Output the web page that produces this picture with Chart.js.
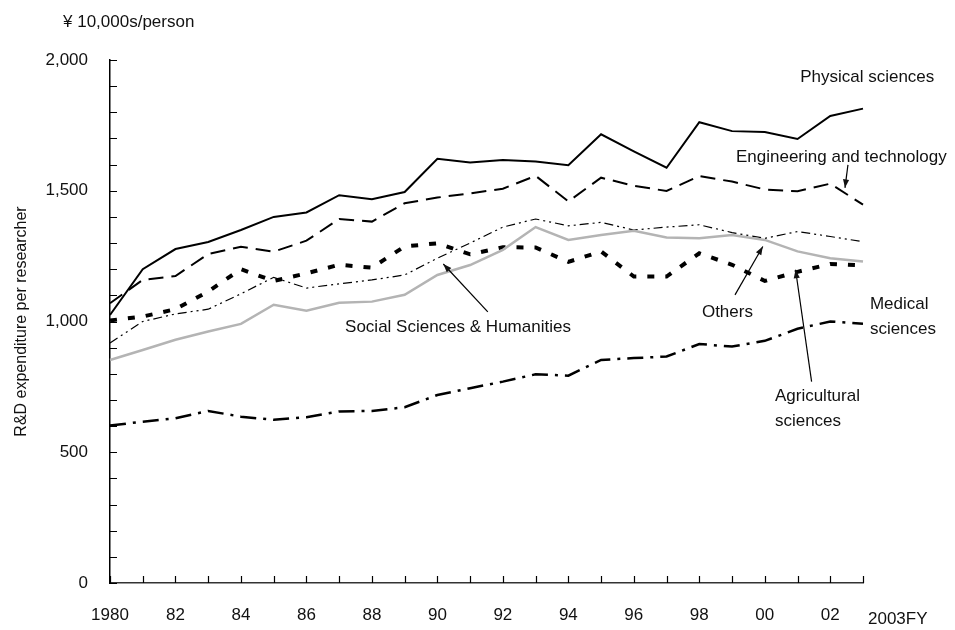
<!DOCTYPE html>
<html>
<head>
<meta charset="utf-8">
<script src="https://cdn.jsdelivr.net/npm/chart.js@4.4.1/dist/chart.umd.min.js"></script>
<style>
  html, body { margin: 0; padding: 0; background: #fff; }
  #container { width: 955px; height: 630px; position: relative; }
</style>
</head>
<body>
<div id="container"><canvas id="canvas" width="955" height="630"></canvas></div>
<script>
var FONT = '"Liberation Sans", Arial, sans-serif';

// fiscal years 1980 .. 2003
var years = [1980, 1981, 1982, 1983, 1984, 1985, 1986, 1987, 1988, 1989, 1990, 1991,
             1992, 1993, 1994, 1995, 1996, 1997, 1998, 1999, 2000, 2001, 2002, 2003];

// R&D expenditure per researcher, 10,000 yen
var physical    = [1025, 1200, 1277, 1304, 1350, 1400, 1417, 1483, 1468, 1495, 1622, 1608,
                   1618, 1612, 1598, 1716, 1651, 1588, 1762, 1728, 1725, 1698, 1786, 1814];
var engineering = [1070, 1159, 1174, 1258, 1286, 1267, 1309, 1392, 1382, 1452, 1474, 1490,
                   1508, 1557, 1459, 1550, 1519, 1499, 1556, 1535, 1505, 1498, 1527, 1447];
var agricultural= [1004, 1019, 1047, 1115, 1200, 1155, 1184, 1217, 1206, 1287, 1299, 1257,
                   1284, 1283, 1228, 1268, 1172, 1172, 1261, 1217, 1155, 1190, 1220, 1215];
var others      = [918, 1000, 1029, 1047, 1106, 1169, 1128, 1144, 1159, 1178, 1242, 1300,
                   1361, 1392, 1366, 1379, 1350, 1361, 1370, 1340, 1318, 1344, 1325, 1305];
var socialSci   = [853, 891, 930, 962, 991, 1064, 1041, 1072, 1076, 1102, 1178, 1216,
                   1274, 1361, 1312, 1331, 1347, 1321, 1318, 1331, 1312, 1268, 1242, 1229];
var medical     = [602, 617, 630, 658, 636, 624, 634, 656, 658, 672, 719, 745,
                   770, 798, 793, 853, 860, 866, 914, 904, 926, 972, 1000, 991];

var yTicks = [0, 500, 1000, 1500, 2000];

// annotation labels, placed in data units (x = year index, y = value)
var labels = [
  { text: ['Physical sciences'], x: 21.08, y: 1932 },
  { text: ['Engineering and technology'], x: 19.12, y: 1626 },
  { text: ['Social Sciences & Humanities'], x: 7.18, y: 979 },
  { text: ['Others'], x: 18.08, y: 1037 },
  { text: ['Medical', 'sciences'], x: 23.21, y: 1064 },
  { text: ['Agricultural', 'sciences'], x: 20.31, y: 715 }
];
var arrows = [
  { from: [22.54, 1599], to: [22.45, 1511] },
  { from: [11.54, 1037], to: [10.18, 1220] },
  { from: [19.09, 1102], to: [19.94, 1287] },
  { from: [21.43, 770],  to: [20.94, 1198] }
];

function line(label, data, color, width, dash) {
  return {
    label: label, data: data, borderColor: color, backgroundColor: color,
    borderWidth: width, borderDash: dash, borderCapStyle: 'butt',
    pointRadius: 0, tension: 0, fill: false
  };
}

var decorations = {
  id: 'decorations',
  afterDraw: function(chart) {
    var ctx = chart.ctx, xs = chart.scales.x, ys = chart.scales.y;
    var area = chart.chartArea;
    ctx.save();
    // inward tick marks
    ctx.strokeStyle = '#000';
    ctx.lineWidth = 1.2;
    ctx.beginPath();
    for (var i = 0; i < years.length; i++) {
      var px = Math.round(xs.getPixelForValue(i)) + 0.5;
      ctx.moveTo(px, area.bottom);
      ctx.lineTo(px, area.bottom - 7);
    }
    for (var v = 0; v <= 2000; v += 100) {
      var py = Math.round(ys.getPixelForValue(v)) + 0.5;
      ctx.moveTo(area.left, py);
      ctx.lineTo(area.left + 7, py);
    }
    ctx.stroke();

    // text labels
    ctx.fillStyle = '#111';
    ctx.font = '17px ' + FONT;
    ctx.textBaseline = 'middle';
    ctx.textAlign = 'left';
    labels.forEach(function(l) {
      var x = xs.getPixelForValue(l.x), y = ys.getPixelForValue(l.y);
      l.text.forEach(function(t, k) { ctx.fillText(t, x, y + k * 25); });
    });
    ctx.fillText('2003FY', xs.getPixelForValue(years.length - 1) + 5, xs.top + 36);
    ctx.fillText('\u00a5 10,000s/person', area.left - 47, area.top - 38);

    // arrows
    ctx.lineWidth = 1.2;
    arrows.forEach(function(a) {
      var x1 = xs.getPixelForValue(a.from[0]), y1 = ys.getPixelForValue(a.from[1]);
      var x2 = xs.getPixelForValue(a.to[0]), y2 = ys.getPixelForValue(a.to[1]);
      var ang = Math.atan2(y2 - y1, x2 - x1);
      ctx.beginPath();
      ctx.moveTo(x1, y1);
      ctx.lineTo(x2, y2);
      ctx.stroke();
      ctx.beginPath();
      ctx.moveTo(x2, y2);
      ctx.lineTo(x2 - 9 * Math.cos(ang - 0.35), y2 - 9 * Math.sin(ang - 0.35));
      ctx.lineTo(x2 - 9 * Math.cos(ang + 0.35), y2 - 9 * Math.sin(ang + 0.35));
      ctx.closePath();
      ctx.fill();
    });
    ctx.restore();
  }
};

var config = {
  type: 'line',
  data: {
    labels: years,
    datasets: [
      line('Social Sciences & Humanities', socialSci, '#b4b4b4', 2.5, []),
      line('Others', others, '#000', 1.2, [9, 4, 2, 4, 2, 4]),
      line('Medical sciences', medical, '#000', 2.5, [16, 7, 3, 7]),
      line('Agricultural sciences', agricultural, '#000', 4, [7, 11]),
      line('Engineering and technology', engineering, '#000', 2, [15, 8]),
      line('Physical sciences', physical, '#000', 2, [])
    ]
  },
  options: {
    responsive: false,
    animation: false,
    layout: { padding: { top: 60, right: 92, left: 0, bottom: 0 } },
    plugins: { legend: { display: false }, tooltip: { enabled: false } },
    scales: {
      x: {
        type: 'category',
        offset: false,
        grid: { display: false, drawTicks: false },
        border: { display: true, color: '#333', width: 1.5 },
        ticks: {
          autoSkip: false, maxRotation: 0, padding: 22, color: '#111',
          font: { family: FONT, size: 17 },
          callback: function(val, idx) {
            var yr = years[idx];
            if (yr % 2 !== 0 || yr === 2003) return '';
            return yr === 1980 ? '1980' : String(yr % 100).padStart(2, '0');
          }
        },
        afterFit: function(s) { s.height = 47; }
      },
      y: {
        min: 0, max: 2000,
        grid: { display: false, drawTicks: false },
        border: { display: true, color: '#000', width: 1.5 },
        afterBuildTicks: function(s) { s.ticks = yTicks.map(function(v) { return { value: v }; }); },
        ticks: {
          padding: 22, color: '#111',
          font: { family: FONT, size: 17 },
          callback: function(v) { return v.toLocaleString('en-US'); }
        },
        title: {
          display: true, text: 'R&D expenditure per researcher', color: '#111',
          font: { family: FONT, size: 16 }, padding: { top: 12, bottom: 0 }
        },
        afterFit: function(s) { s.width = 110; }
      }
    }
  },
  plugins: [decorations]
};

var chart = new Chart(document.getElementById('canvas').getContext('2d'), config);
</script>
</body>
</html>
